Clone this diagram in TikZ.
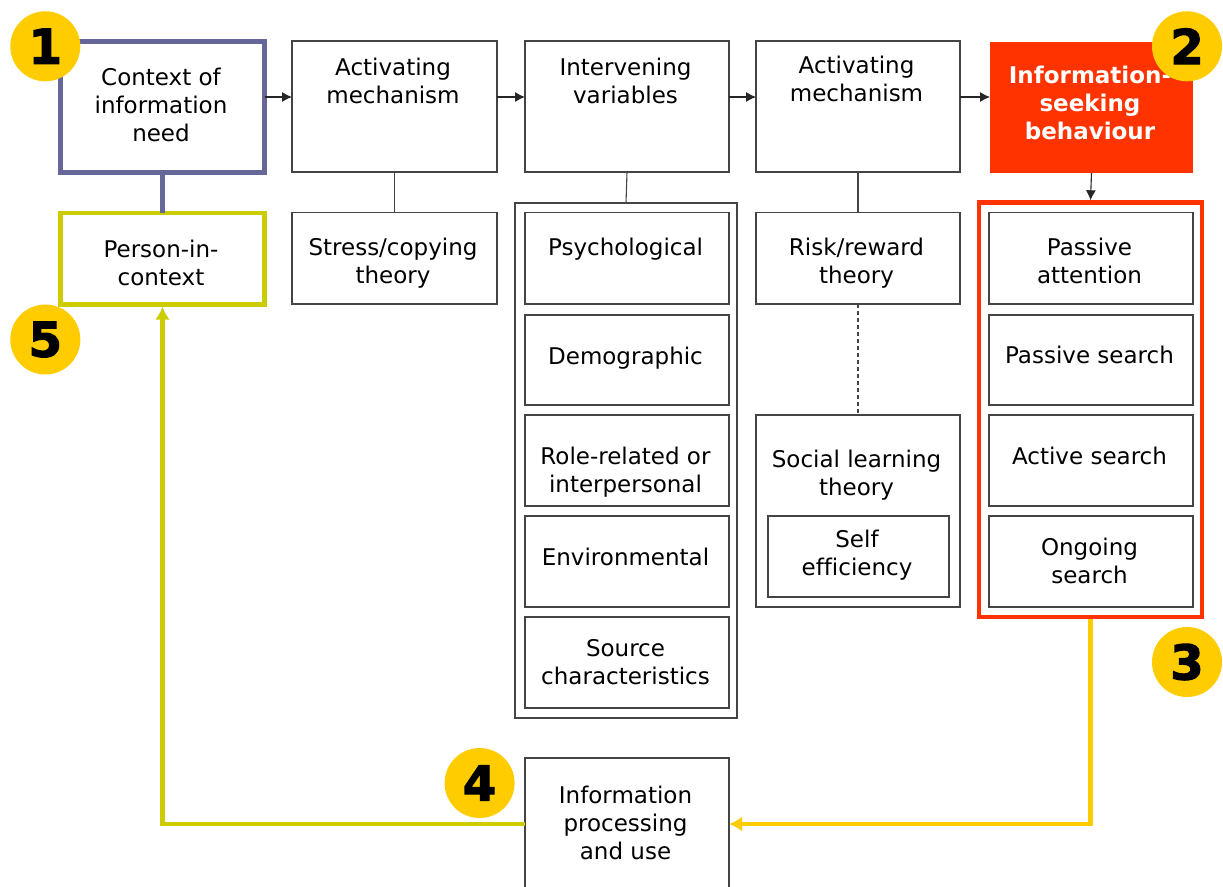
\documentclass[tikz,border=0pt]{standalone}
\usepackage{fontspec}
\setmainfont[Ligatures=NoCommon]{DejaVu Sans}
\newfontfamily\heavyfont[UprightFont=* Bold,FakeBold=2.5]{DejaVu Sans}
\newfontfamily\spacedbold[UprightFont=* Bold]{DejaVu Sans}
\usetikzlibrary{arrows.meta}
\definecolor{purpleline}{HTML}{666699}
\definecolor{greenline}{HTML}{CCCC00}
\definecolor{orangeline}{HTML}{FFCC00}
\definecolor{redline}{HTML}{FF3300}
\definecolor{boxline}{HTML}{444444}
\tikzset{
  bx/.style={draw=boxline,line width=1.1pt,fill=white,rectangle,inner sep=0pt,outer sep=0pt,anchor=north west,
    font=\fontsize{23}{28}\selectfont,text=black},
  purplebox/.style={draw=purpleline,line width=4.5pt},
  greenbox/.style={draw=greenline,line width=4.5pt},
  redbox/.style={draw=none,fill=redline,text=white,font=\fontsize{23}{28}\selectfont\spacedbold},
  redframe/.style={draw=redline,line width=4.5pt},
  plainline/.style={draw=boxline,line width=1.1pt},
  arr/.style={draw=black!85,line width=1.1pt,-{Latex[length=10pt,width=10pt]}},
  purplelink/.style={draw=purpleline,line width=4.5pt},
  greenlink/.style={draw=greenline,line width=4.5pt,-{Latex[length=13pt,width=15pt]}},
  orangelink/.style={draw=orangeline,line width=4.5pt,-{Latex[length=13pt,width=15pt]}},
  badge/.style={circle,fill=orangeline,minimum size=70pt,inner sep=0pt,outer sep=0pt,text=black,
    font=\fontsize{48}{48}\selectfont\heavyfont},
}
% name, x0, y0, x1, y1, style, upward shift of the text, text
\newcommand{\bxn}[8]{%
  \pgfmathsetlengthmacro{\bxw}{#4-#2}\pgfmathsetlengthmacro{\bxh}{#5-#3}%
  \pgfmathsetlengthmacro{\bxup}{#7-9}%
  \node[bx,#6,minimum width=\bxw,minimum height=\bxh] (#1) at (#2,#3)
    {\hspace*{-3pt}\raisebox{\bxup}[0pt][0pt]{\begin{tabular}{@{}c@{}}#8\end{tabular}}};}
\begin{document}
\begin{tikzpicture}[x=1pt,y=-1pt]
\useasboundingbox (0,0) rectangle (1223,886);
\clip (0,0) rectangle (1223,886);
\fill[white] (0,0) rectangle (1223,886);
\coordinate (row) at (0,97);
\coordinate (mid) at (0,824);

% outer frames
\bxn{frame}{515}{203}{737}{718}{}{0}{}
\bxn{redfr}{979}{202.5}{1202}{617}{redframe}{0}{}

% column 1
\bxn{ctx}{60.5}{41.5}{264.5}{172.5}{purplebox}{2}{Context of\\information\\need}
\bxn{pic}{60.5}{213}{264.5}{304.5}{greenbox}{-4}{Person-in-\\context}
% column 2
\bxn{act}{292}{41}{497}{172}{}{25.5}{Activating\\mechanism}
\bxn{stress}{292}{212.5}{497}{304}{}{-3}{Stress/copying\\theory}
% column 3
\bxn{iv}{525}{41}{729}{172}{}{25.5}{Intervening\\variables}
\bxn{psy}{525}{212.5}{729}{304}{}{11}{Psychological}
\bxn{dem}{525}{315}{729}{405}{}{4}{Demographic}
\bxn{role}{525}{415}{729}{506}{}{-9.5}{Role-related or\\interpersonal}
\bxn{env}{525}{516}{729}{607}{}{4.5}{Environmental}
\bxn{src}{525}{617}{729}{708}{}{0}{Source\\characteristics}
% column 4
\bxn{actb}{756}{41}{960}{172}{}{27.5}{Activating\\mechanism}
\bxn{risk}{756}{212.5}{960}{304}{}{-3}{Risk/reward\\theory}
\bxn{social}{756}{415}{960}{607}{}{38}{Social learning\\theory}
\bxn{self}{768}{516}{949}{597}{}{3.5}{Self\\efficiency}
% column 5
\bxn{isb}{990}{42}{1193}{173}{redbox}{4.5}{Information-\\seeking\\behaviour}
\bxn{pa}{989}{212.5}{1193}{304}{}{-3}{Passive\\attention}
\bxn{ps}{989}{315}{1193}{405}{}{5}{Passive search}
\bxn{as}{989}{415}{1193}{506}{}{4.5}{Active search}
\bxn{os}{989}{516}{1193}{607}{}{0}{Ongoing\\search}
% bottom
\bxn{ipu}{525}{758}{729}{900}{}{6}{Information\\processing\\and use}

% connectors
\draw[arr] (ctx.east |- row) -- (act.west |- row);
\draw[arr] (act.east |- row) -- (iv.west |- row);
\draw[arr] (iv.east |- row) -- (actb.west |- row);
\draw[arr] (actb.east |- row) -- (isb.west |- row);
\draw[arr] (isb.south) -- ([yshift=2.2pt]redfr.north);
\draw[plainline] (act.south -| stress.north) -- (stress.north);
\draw[plainline] (iv.south) -- (frame.north);
\draw[plainline] (actb.south) -- (risk.north);
\draw[plainline,dash pattern=on 4pt off 3pt] (risk.south) -- (social.north);
\draw[purplelink] (ctx.south) -- (pic.north);
\draw[orangelink] ([yshift=-2pt]redfr.south) |- (ipu.east |- mid);
\draw[greenlink] (ipu.west |- mid) -| ([yshift=-2.2pt]pic.south);

% badges
\node[badge] (b1) at (45.3,46.3) {1};
\node[badge] (b2) at (1187,46.3) {2};
\node[badge] (b3) at (1187,662) {3};
\node[badge] (b4) at (479.6,783) {4};
\node[badge] (b5) at (45.3,339.5) {5};
\end{tikzpicture}
\end{document}
